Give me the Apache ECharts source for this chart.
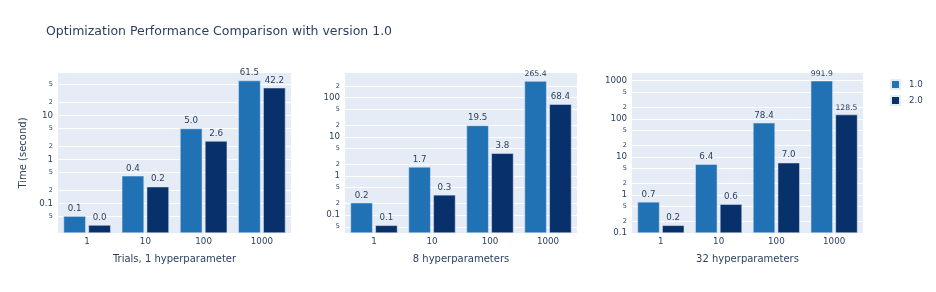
<!DOCTYPE html>
<html>
<head>
<meta charset="utf-8">
<script src="https://cdn.jsdelivr.net/npm/echarts@6/dist/echarts.min.js"></script>
<style>html,body{margin:0;padding:0;background:#fff}#c{width:936px;height:292px}</style>
</head>
<body>
<div id="c"></div>
<script>
var categories = ['1', '10', '100', '1000'];
var seriesNames = ['1.0', '2.0'];
var panelTitles = ['Trials, 1 hyperparameter', '8 hyperparameters', '32 hyperparameters'];
// time in seconds, panel 1 (1 hyperparameter)
var p1v1 = [0.051, 0.42, 5.0, 61.5];
var p1v2 = [0.032, 0.238, 2.6, 42.2];
// panel 2 (8 hyperparameters)
var p2v1 = [0.206, 1.7, 19.5, 265.4];
var p2v2 = [0.0545, 0.327, 3.8, 68.4];
// panel 3 (32 hyperparameters)
var p3v1 = [0.655, 6.4, 78.4, 991.9];
var p3v2 = [0.159, 0.57, 7.0, 128.5];
// y tick values per panel
var ticks1 = [0.05, 0.1, 0.2, 0.5, 1, 2, 5, 10, 20, 50];
var ticks2 = [0.05, 0.1, 0.2, 0.5, 1, 2, 5, 10, 20, 50, 100, 200];
var ticks3 = [0.1, 0.2, 0.5, 1, 2, 5, 10, 20, 50, 100, 200, 500, 1000];

var FONT = '"DejaVu Sans", Verdana, sans-serif';
var TXT = '#2a3f5f';
var colors = ['#2171b5', '#08306b'];
var ranges = [[0.0211, 91.5], [0.0347, 428], [0.1, 1590]];
var lefts = [58, 345, 632];
var widths = [233, 232, 231];
var tickSets = [ticks1, ticks2, ticks3];
var data = [[p1v1, p1v2], [p2v1, p2v2], [p3v1, p3v2]];

function isPow10(v) {
  var l = Math.log10(v);
  return Math.abs(l - Math.round(l)) < 1e-6;
}
function tickFmt(v) {
  if (isPow10(v)) {
    var e = Math.round(Math.log10(v));
    var s = e < 0 ? v.toFixed(-e) : String(Math.round(v));
    return '{maj|' + s + '}';
  }
  var lead = Math.round(v / Math.pow(10, Math.floor(Math.log10(v) + 1e-9)));
  return '{min|' + lead + '}';
}

var grids = [], xAxes = [], yAxes = [], series = [];
for (var i = 0; i < 3; i++) {
  grids.push({left: lefts[i], top: 73, width: widths[i], height: 160, show: true, backgroundColor: '#e5ecf6', borderWidth: 0});
  xAxes.push({
    type: 'category', gridIndex: i, data: categories,
    axisLine: {show: false}, axisTick: {show: false},
    axisLabel: {color: TXT, fontFamily: FONT, fontSize: 8.7, margin: 4},
    name: panelTitles[i], nameLocation: 'middle', nameGap: 21,
    nameTextStyle: {color: TXT, fontFamily: FONT, fontSize: 10}
  });
  yAxes.push({
    type: 'log', logBase: 10, gridIndex: i, min: ranges[i][0], max: ranges[i][1],
    startValue: ranges[i][0],
    name: i === 0 ? 'Time (second)' : '', nameLocation: 'middle', nameGap: 30,
    nameTextStyle: {color: TXT, fontFamily: FONT, fontSize: 10},
    axisLine: {show: false},
    axisTick: {show: false, customValues: tickSets[i]},
    axisLabel: {customValues: tickSets[i], formatter: tickFmt, margin: 5, showMinLabel: true, showMaxLabel: true,
      rich: {maj: {color: TXT, fontFamily: FONT, fontSize: 8.7}, min: {color: TXT, fontFamily: FONT, fontSize: 6.5}}},
    splitLine: {show: true, lineStyle: {color: '#ffffff', width: 1}}
  });
  for (var s = 0; s < 2; s++) {
    series.push({
      type: 'bar', name: seriesNames[s], xAxisIndex: i, yAxisIndex: i,
      data: data[i][s], barCategoryGap: '19%', barGap: '12%',
      itemStyle: {color: colors[s], borderColor: '#e5ecf6', borderWidth: 0.5},
      label: {show: true, position: 'top', distance: 3,
        formatter: function (p) { var t = p.value.toFixed(1); return t.length >= 5 ? '{s|' + t + '}' : '{n|' + t + '}'; },
        rich: {n: {color: TXT, fontFamily: FONT, fontSize: 8.7}, s: {color: TXT, fontFamily: FONT, fontSize: 7.7}}}
    });
  }
}

var chart = echarts.init(document.getElementById('c'), null, {renderer: 'canvas'});
chart.setOption({
  animation: false,
  backgroundColor: '#ffffff',
  title: {text: 'Optimization Performance Comparison with version 1.0', left: 46, top: 25, padding: 0,
    textStyle: {color: TXT, fontFamily: FONT, fontSize: 12.5, fontWeight: 'normal'}},
  legend: {data: seriesNames, orient: 'vertical', left: 890, top: 79, itemWidth: 9, itemHeight: 9, itemGap: 5, padding: 0,
    icon: 'rect', textStyle: {color: TXT, fontFamily: FONT, fontSize: 8.7, padding: [0, 0, 0, 4]}},
  grid: grids, xAxis: xAxes, yAxis: yAxes, series: series
});
</script>
</body>
</html>
